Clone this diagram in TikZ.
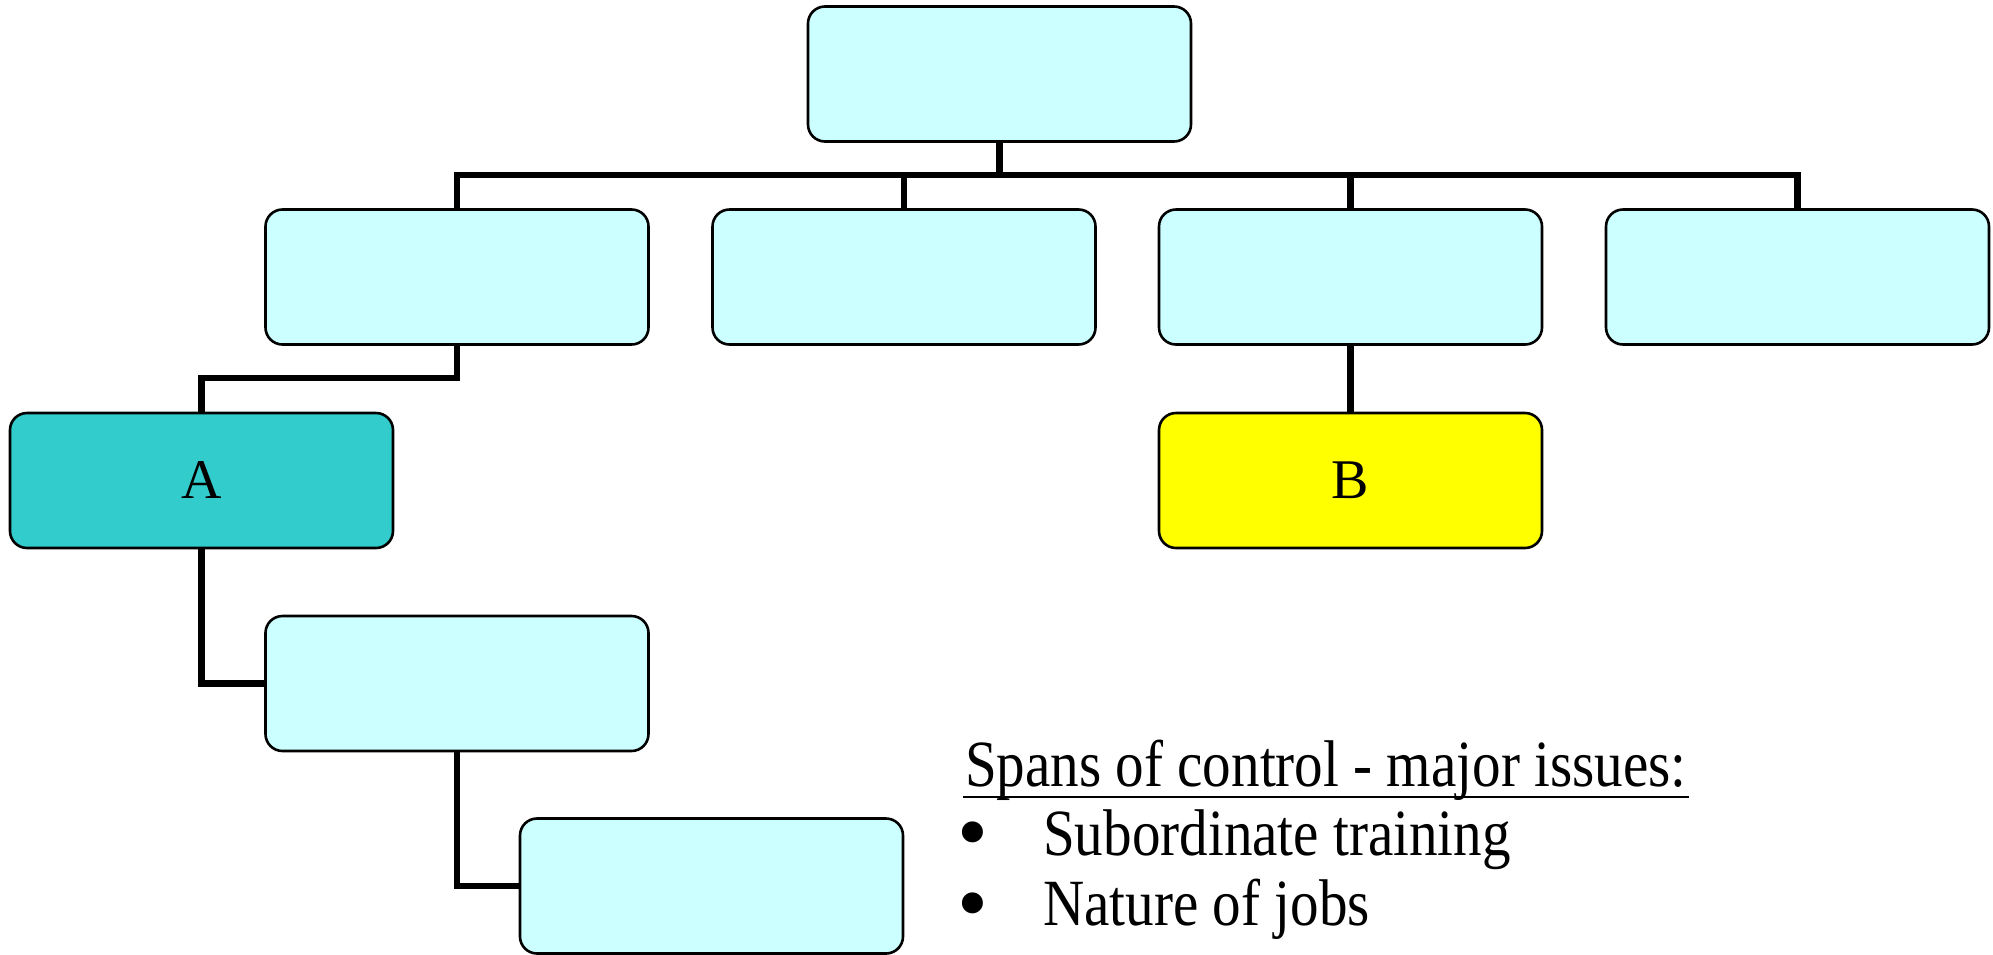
\documentclass[tikz,border=0pt]{standalone}
\usepackage{fontspec}
\setmainfont{Liberation Serif}
\newfontfamily\condserif[FakeStretch=0.865]{Liberation Serif}
\usetikzlibrary{calc}
\definecolor{boxcyan}{HTML}{CCFFFF}
\definecolor{boxteal}{HTML}{33CCCC}
\definecolor{boxyellow}{HTML}{FFFF00}
\begin{document}
\begin{tikzpicture}[x=1pt,y=-1pt,
  orgbox/.style={draw=black, line width=2.6pt, rounded corners=17pt, fill=boxcyan,
    minimum width=383pt, minimum height=135pt, inner sep=0pt,
    font=\fontsize{56}{60}\selectfont},
  link/.style={line width=6.3pt, black},
  txt/.style={anchor=base west, inner sep=0pt, font=\condserif\fontsize{66}{72}\selectfont},
  bul/.style={anchor=base, inner sep=0pt, font=\fontsize{88}{90}\selectfont}]
\useasboundingbox (0,0) rectangle (1993,954);
% connectors first, boxes drawn over them
\coordinate (bus) at (0,175);
\coordinate (lvl2) at (0,378);
\coordinate (topc) at (999.5,74);
\coordinate (c1c) at (457,277);
\coordinate (c2c) at (904,277);
\coordinate (c3c) at (1350.5,277);
\coordinate (c4c) at (1797.5,277);
\coordinate (ac) at (201.5,480.5);
\coordinate (bc) at (1350.5,480.5);
\coordinate (dc) at (457,683.5);
\coordinate (ec) at (711.5,886);
\draw[link] (topc) -- (topc |- bus) -| (c1c);
\draw[link] (topc |- bus) -| (c2c);
\draw[link] (topc |- bus) -| (c3c);
\draw[link] (topc |- bus) -| (c4c);
\draw[link] (c1c) -- (c1c |- lvl2) -| (ac);
\draw[link] (c3c) -- (bc);
\draw[link] (ac) |- (dc);
\draw[link] (dc) |- (ec);
% boxes
\node[orgbox] (top) at (topc) {};
\node[orgbox] (c1) at (c1c) {};
\node[orgbox] (c2) at (c2c) {};
\node[orgbox] (c3) at (c3c) {};
\node[orgbox] (c4) at (c4c) {};
\node[orgbox, fill=boxteal] (a) at (ac) {A};
\node[orgbox, fill=boxyellow] (b) at (bc) {B};
\node[orgbox] (d) at (dc) {};
\node[orgbox] (e) at (ec) {};
% text
\node[txt] (title) at (965,786) {Spans of control - major issues:};
\draw[line width=2.8pt] ($(title.base west)+(-2,11)$) -- ($(title.base east)+(2,11)$);
\node[bul] (b1) at (973,861) {\smash{•}};
\node[txt] (t1) at (1043,855) {Subordinate training};
\node[bul] (b2) at (973,932) {\smash{•}};
\node[txt] (t2) at (1043,925) {Nature of jobs};
\end{tikzpicture}
\end{document}
